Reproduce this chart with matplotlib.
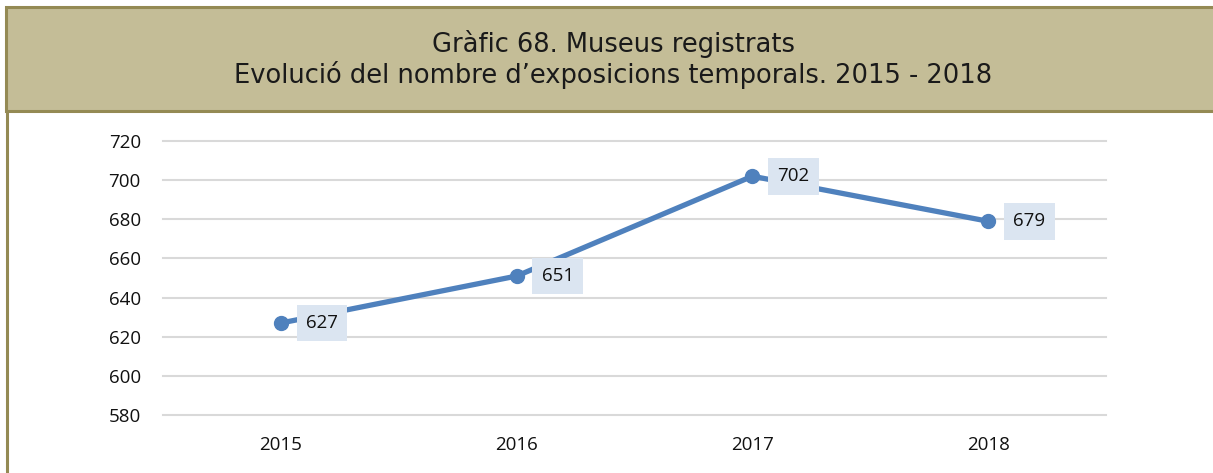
import matplotlib.pyplot as plt
from matplotlib.patches import Rectangle
from matplotlib.lines import Line2D

# dades
anys = ['2015', '2016', '2017', '2018']
exposicions = [627, 651, 702, 679]
yticks = [580, 600, 620, 640, 660, 680, 700, 720]

W, H = 1213, 473
fig = plt.figure(figsize=(W / 100, H / 100), dpi=100)

# capçalera amb el títol
fig.patches.append(Rectangle((6 / W, 1 - 111 / H), 1.0, 104 / H, transform=fig.transFigure,
                             facecolor='#c4bd97', edgecolor='#948a54', lw=2.2, zorder=0))
fig.lines.append(Line2D([6.5 / W, 6.5 / W], [0, 1 - 111 / H], transform=fig.transFigure,
                        color='#948a54', lw=2.2))
fig.text(613 / W, 1 - 44 / H, 'Gràfic 68. Museus registrats', ha='center', va='center',
         fontsize=18.5, family='DejaVu Sans', color='#1a1a1a')
fig.text(613 / W, 1 - 75 / H, 'Evolució del nombre d\u2019exposicions temporals. 2015 - 2018',
         ha='center', va='center', fontsize=18.5, family='DejaVu Sans', color='#1a1a1a')

ax = fig.add_axes([163 / W, 1 - 415 / H, (1106 - 163) / W, (415 - 141) / H])
x = range(len(anys))
ax.plot(x, exposicions, color='#4f81bd', lw=3.8, marker='o', ms=10, zorder=3)
for xi, v in zip(x, exposicions):
    ax.annotate(str(v), (xi, v), textcoords='offset pixels', xytext=(25, 0),
                ha='left', va='center', fontsize=13.5, family='Open Sans', color='#111111',
                bbox=dict(boxstyle='square,pad=0.5', fc='#dbe5f1', ec='none'), zorder=4)

ax.set_xlim(-0.5, len(anys) - 0.5)
ax.set_ylim(580, 720)
ax.set_yticks(yticks)
ax.set_xticks(list(x))
ax.set_xticklabels(anys)
ax.grid(axis='y', color='#d9d9d9', lw=1.5)
for gl in ax.get_ygridlines():
    gl.set_clip_on(False)
ax.set_axisbelow(True)
for s in ax.spines.values():
    s.set_visible(False)
ax.tick_params(length=0, labelsize=13.5, labelcolor='#111111')
ax.tick_params(axis='y', pad=16)
ax.tick_params(axis='x', pad=15)
for lbl in ax.get_xticklabels() + ax.get_yticklabels():
    lbl.set_family('Open Sans')

fig.savefig('out.png', dpi=100)
